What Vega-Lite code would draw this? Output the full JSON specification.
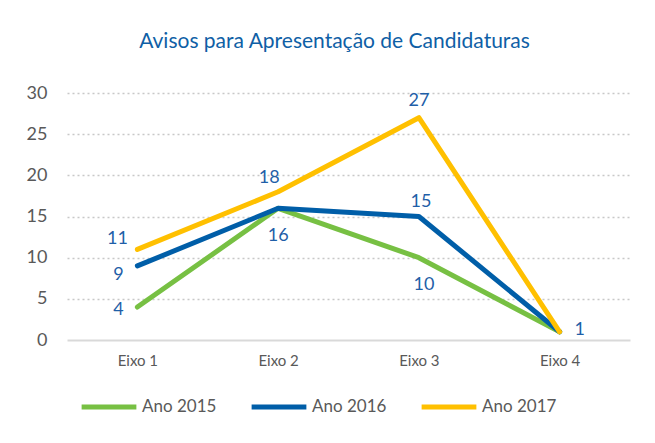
{
  "$schema": "https://vega.github.io/schema/vega-lite/v6.json",
  "width": 563,
  "height": 247,
  "autosize": {"type": "none"},
  "padding": {"left": 67, "top": 93, "right": 25, "bottom": 103},
  "background": "white",
  "title": {
    "text": "Avisos para Apresentação de Candidaturas",
    "font": "Lato",
    "fontSize": 21,
    "fontWeight": "normal",
    "color": "#0F5FA6",
    "anchor": "middle",
    "dx": -14,
    "offset": 32
  },
  "config": {
    "view": {"stroke": null},
    "font": "Lato"
  },
  "data": {
    "values": [
      {"ano": "Ano 2015", "eixo": "Eixo 1", "valor": 4},
      {"ano": "Ano 2015", "eixo": "Eixo 2", "valor": 16},
      {"ano": "Ano 2015", "eixo": "Eixo 3", "valor": 10},
      {"ano": "Ano 2015", "eixo": "Eixo 4", "valor": 1},
      {"ano": "Ano 2016", "eixo": "Eixo 1", "valor": 9},
      {"ano": "Ano 2016", "eixo": "Eixo 2", "valor": 16},
      {"ano": "Ano 2016", "eixo": "Eixo 3", "valor": 15},
      {"ano": "Ano 2016", "eixo": "Eixo 4", "valor": 1},
      {"ano": "Ano 2017", "eixo": "Eixo 1", "valor": 11},
      {"ano": "Ano 2017", "eixo": "Eixo 2", "valor": 18},
      {"ano": "Ano 2017", "eixo": "Eixo 3", "valor": 27},
      {"ano": "Ano 2017", "eixo": "Eixo 4", "valor": 1}
    ]
  },
  "encoding": {
    "x": {
      "field": "eixo",
      "type": "ordinal",
      "scale": {"type": "point", "padding": 0.5},
      "axis": {
        "title": null,
        "labelAngle": 0,
        "labelFontSize": 15,
        "labelColor": "#595959",
        "labelPadding": 13,
        "ticks": false,
        "domain": false,
        "grid": false
      }
    },
    "y": {
      "field": "valor",
      "type": "quantitative",
      "scale": {"domain": [0, 30], "nice": false},
      "axis": {
        "title": null,
        "values": [0, 5, 10, 15, 20, 25, 30],
        "labelFontSize": 18,
        "labelColor": "#595959",
        "labelPadding": 20,
        "ticks": false,
        "domain": false,
        "grid": true,
        "gridColor": {"condition": {"test": "datum.value === 0", "value": "#D9D9D9"}, "value": "#C8C8C8"},
        "gridDash": {"condition": {"test": "datum.value === 0", "value": []}, "value": [2, 3]},
        "gridWidth": {"condition": {"test": "datum.value === 0", "value": 2}, "value": 1.3}
      }
    }
  },
  "layer": [
    {
      "mark": {"type": "line", "strokeWidth": 5, "strokeCap": "round", "strokeJoin": "round"},
      "encoding": {
        "color": {
          "field": "ano",
          "type": "nominal",
          "scale": {"domain": ["Ano 2015", "Ano 2016", "Ano 2017"], "range": ["#77C043", "#005EA8", "#FFC000"]},
          "legend": {
            "title": null,
            "orient": "none",
            "legendX": 12,
            "legendY": 284,
            "direction": "horizontal",
            "symbolType": "stroke",
            "symbolSize": 3000,
            "symbolStrokeWidth": 5,
            "labelFontSize": 17,
            "labelColor": "#595959",
            "labelOffset": 3,
            "columnPadding": 24
          }
        },
        "order": {"field": "eixo"}
      }
    },
    {
      "transform": [{"filter": "datum.ano === 'Ano 2017' && datum.eixo === 'Eixo 1'"}],
      "mark": {"type": "text", "fontSize": 18, "color": "#1F5FA8", "dx": -20, "dy": -10, "baseline": "middle"},
      "encoding": {"text": {"field": "valor"}}
    },
    {
      "transform": [{"filter": "datum.ano === 'Ano 2016' && datum.eixo === 'Eixo 1'"}],
      "mark": {"type": "text", "fontSize": 18, "color": "#1F5FA8", "dx": -19, "dy": 9, "baseline": "middle"},
      "encoding": {"text": {"field": "valor"}}
    },
    {
      "transform": [{"filter": "datum.ano === 'Ano 2015' && datum.eixo === 'Eixo 1'"}],
      "mark": {"type": "text", "fontSize": 18, "color": "#1F5FA8", "dx": -19, "dy": 3, "baseline": "middle"},
      "encoding": {"text": {"field": "valor"}}
    },
    {
      "transform": [{"filter": "datum.ano === 'Ano 2017' && datum.eixo === 'Eixo 2'"}],
      "mark": {"type": "text", "fontSize": 18, "color": "#1F5FA8", "dx": -9, "dy": -14, "baseline": "middle"},
      "encoding": {"text": {"field": "valor"}}
    },
    {
      "transform": [{"filter": "datum.ano === 'Ano 2015' && datum.eixo === 'Eixo 2'"}],
      "mark": {"type": "text", "fontSize": 18, "color": "#1F5FA8", "dx": 0, "dy": 28, "baseline": "middle"},
      "encoding": {"text": {"field": "valor"}}
    },
    {
      "transform": [{"filter": "datum.ano === 'Ano 2017' && datum.eixo === 'Eixo 3'"}],
      "mark": {"type": "text", "fontSize": 18, "color": "#1F5FA8", "dx": 0, "dy": -17, "baseline": "middle"},
      "encoding": {"text": {"field": "valor"}}
    },
    {
      "transform": [{"filter": "datum.ano === 'Ano 2016' && datum.eixo === 'Eixo 3'"}],
      "mark": {"type": "text", "fontSize": 18, "color": "#1F5FA8", "dx": 2, "dy": -15, "baseline": "middle"},
      "encoding": {"text": {"field": "valor"}}
    },
    {
      "transform": [{"filter": "datum.ano === 'Ano 2015' && datum.eixo === 'Eixo 3'"}],
      "mark": {"type": "text", "fontSize": 18, "color": "#1F5FA8", "dx": 5, "dy": 27, "baseline": "middle"},
      "encoding": {"text": {"field": "valor"}}
    },
    {
      "transform": [{"filter": "datum.ano === 'Ano 2017' && datum.eixo === 'Eixo 4'"}],
      "mark": {"type": "text", "fontSize": 18, "color": "#1F5FA8", "dx": 20, "dy": -2, "baseline": "middle"},
      "encoding": {"text": {"field": "valor"}}
    }
  ]
}
